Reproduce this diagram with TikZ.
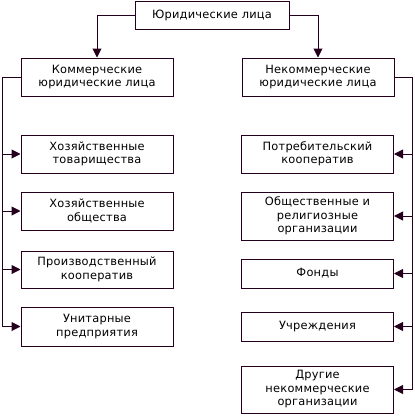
\documentclass[tikz,border=0pt]{standalone}
\usepackage{fontspec}
\setmainfont[LetterSpace=2]{DejaVu Sans}
\usetikzlibrary{arrows.meta}
\definecolor{ln}{RGB}{36,0,28}
\tikzset{
  x=1pt, y=-1pt,
  box/.style={draw=ln, line width=1pt, fill=white, align=center, inner sep=0pt,
    font=\fontsize{11.4}{13.5}\selectfont, text=black, minimum width=152pt},
  wire/.style={draw=ln, line width=1pt},
  arr/.style={wire, -{Triangle[length=9pt,width=9pt]}}
}
\begin{document}
\begin{tikzpicture}
\useasboundingbox (0,0) rectangle (415,416);
\node[box, minimum width=154pt, minimum height=28pt] (top) at (212,15) {Юридические лица};
\node[box, minimum height=38pt] (com) at (97,77) {Коммерческие\\юридические лица};
\node[box, minimum height=38pt] (nonc) at (318,77) {Некоммерческие\\юридические лица};
\node[box, minimum height=38pt] (l1) at (97,154) {Хозяйственные\\товарищества};
\node[box, minimum height=38pt] (l2) at (97,211) {Хозяйственные\\общества};
\node[box, minimum height=37pt] (l3) at (97,269.5) {Производственный\\кооператив};
\node[box, minimum height=39pt] (l4) at (97,326.5) {Унитарные\\предприятия};
\node[box, minimum height=38pt] (r1) at (317.5,154) {Потребительский\\кооператив};
\node[box, minimum height=48pt] (r2) at (317.5,216) {Общественные и\\религиозные\\организации};
\node[box, minimum height=29pt] (r3) at (317.5,273.5) {Фонды};
\node[box, minimum height=29pt] (r4) at (317.5,326.5) {Учреждения};
\node[box, minimum height=47pt] (r5) at (317.5,389.5) {Другие\\некоммерческие\\организации};
\coordinate (lb) at (2.5,0);
\coordinate (rb) at (412.5,0);
\draw[arr] (top.west) -| (com.north);
\draw[arr] (top.east) -| (nonc.north);
\draw[wire] (com.west) -- (com.west -| lb) -- (l4.west -| lb);
\draw[wire] (nonc.east) -- (nonc.east -| rb) -- (r5.east -| rb);
\foreach \n in {l1,l2,l3,l4} \draw[arr] (\n.west -| lb) -- (\n.west);
\foreach \n in {r1,r2,r3,r4,r5} \draw[arr] (\n.east -| rb) -- (\n.east);
\end{tikzpicture}
\end{document}
